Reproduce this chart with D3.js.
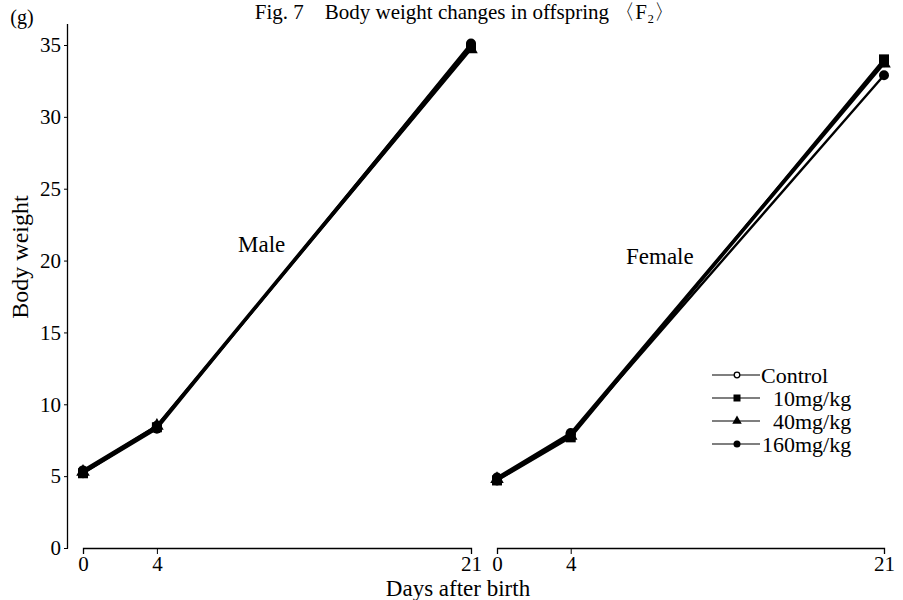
<!DOCTYPE html>
<html><head><meta charset="utf-8">
<script src="https://cdn.jsdelivr.net/npm/d3@7"></script>
<style>body{margin:0;background:#fff}svg{display:block}text{font-family:"Liberation Serif","DejaVu Serif",serif;fill:#000}</style>
</head><body>
<svg id="c" width="903" height="600"></svg>
<script>
const days = [0, 4, 21];
const seriesNames = ["Control", "10mg/kg", "40mg/kg", "160mg/kg"];
const markerTypes = ["openCircle", "square", "triangle", "circle"];
const maleValues = [
  [5.4, 8.5, 35.0],
  [5.2, 8.4, 34.8],
  [5.3, 8.5, 34.7],
  [5.2, 8.3, 35.1]
];
const femaleValues = [
  [4.9, 8.0, 33.8],
  [4.7, 7.7, 34.0],
  [4.8, 7.8, 33.7],
  [4.7, 7.9, 32.9]
];
const yTicks = [0, 5, 10, 15, 20, 25, 30, 35];
const panelLabels = ["Male", "Female"];

const svg = d3.select("#c");
const y = d3.scaleLinear().domain([0, 35]).range([548, 45]);
const xM = d3.scaleLinear().domain([0, 21]).range([83, 471]);
const xF = d3.scaleLinear().domain([0, 21]).range([497, 884]);

// title
svg.append("text").attr("x", 465).attr("y", 19).attr("text-anchor", "middle")
  .style("font-size", "21px").text("Fig. 7\u3000Body weight changes in offspring \u3008F\u2082\u3009");

// y axis
const ya = svg.append("g").attr("transform", "translate(68,0)")
  .call(d3.axisLeft(y).tickValues(yTicks).tickSize(4).tickPadding(3).tickFormat(d3.format("d")));
ya.select(".domain").attr("d", "M-0.5,24V548.5").attr("stroke-width", 1.3);
ya.selectAll("text").style("font-size", "21px").style("font-family", "Liberation Serif");
svg.append("text").attr("x", 22).attr("y", 24).attr("text-anchor", "middle").style("font-size", "20px").text("(g)");
svg.append("text").attr("transform", "translate(28,257) rotate(-90)").attr("text-anchor", "middle")
  .style("font-size", "24px").text("Body weight");

// x axes
[xM, xF].forEach(x => {
  const g = svg.append("g").attr("transform", "translate(0,548)")
    .call(d3.axisBottom(x).tickValues(days).tickSizeOuter(0).tickSize(6).tickPadding(2).tickFormat(d3.format("d")));
  g.select(".domain").attr("stroke-width", 1.3);
  g.selectAll("text").style("font-size", "21px").style("font-family", "Liberation Serif");
});
svg.append("text").attr("x", 458).attr("y", 596).attr("text-anchor", "middle").style("font-size", "23px").text("Days after birth");

function marker(g, type, cx, cy, s) {
  if (type === "openCircle") g.append("circle").attr("cx", cx).attr("cy", cy).attr("r", s * 0.8).attr("fill", "#fff").attr("stroke", "#000").attr("stroke-width", 1.3);
  else if (type === "circle") g.append("circle").attr("cx", cx).attr("cy", cy).attr("r", s).attr("fill", "#000");
  else if (type === "square") g.append("rect").attr("x", cx - s).attr("y", cy - s).attr("width", 2 * s).attr("height", 2 * s).attr("fill", "#000");
  else g.append("path").attr("d", d3.symbol(d3.symbolTriangle, s * s * 3.2)()).attr("transform", `translate(${cx},${cy})`).attr("fill", "#000");
}

function panel(x, values) {
  const line = d3.line().x((d, i) => x(days[i])).y(d => y(d));
  values.forEach((vals, si) => {
    svg.append("path").datum(vals).attr("d", line).attr("fill", "none").attr("stroke", "#000").attr("stroke-width", 2.4);
  });
  values.forEach((vals, si) => {
    vals.forEach((v, i) => marker(svg, markerTypes[si] === "openCircle" ? "circle" : markerTypes[si], x(days[i]), y(v), 5));
  });
}
panel(xM, maleValues);
panel(xF, femaleValues);

svg.append("text").attr("x", 238).attr("y", 252).style("font-size", "23px").text(panelLabels[0]);
svg.append("text").attr("x", 626).attr("y", 264).style("font-size", "23px").text(panelLabels[1]);

// legend
const legX = [761, 773, 773, 762];
seriesNames.forEach((n, i) => {
  const ly = 375 + i * 23;
  svg.append("line").attr("x1", 712).attr("x2", 760).attr("y1", ly).attr("y2", ly).attr("stroke", "#000").attr("stroke-width", 1.2);
  marker(svg, markerTypes[i], 737, ly, 3.5);
  svg.append("text").attr("x", legX[i]).attr("y", ly + 8).style("font-size", "22px").text(n);
});
</script>
</body></html>
